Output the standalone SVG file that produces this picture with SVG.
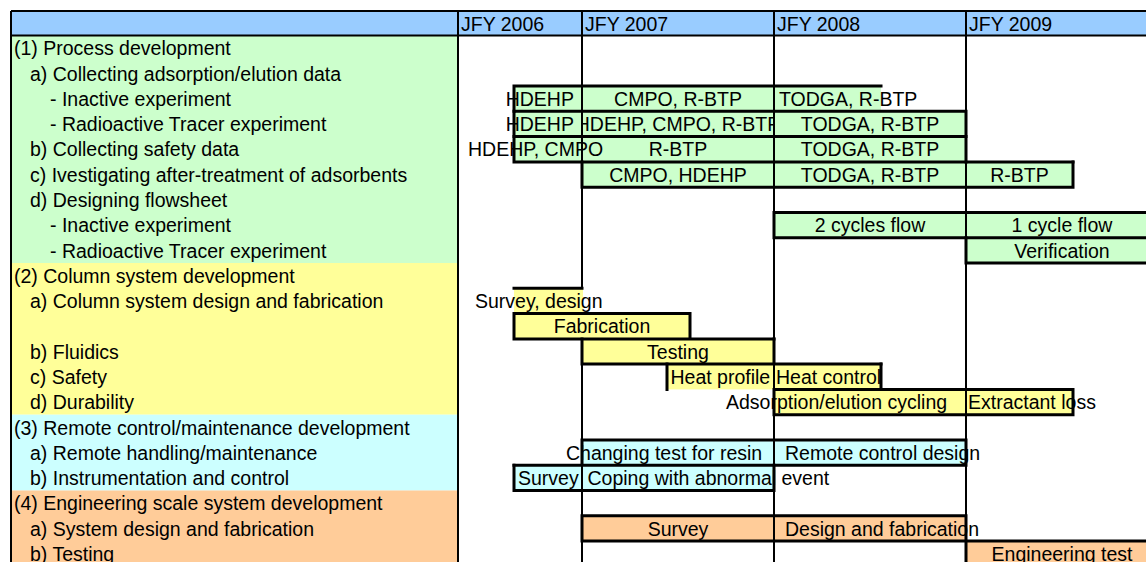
<svg xmlns="http://www.w3.org/2000/svg" width="1146" height="562" viewBox="0 0 1146 562">
<defs>
<style>
text{font-family:"Liberation Sans",Arial,sans-serif;font-size:19.5px;fill:#000}
.m{text-anchor:middle}
.g{fill:#CCFFCC}.y{fill:#FFFF99}.c{fill:#CCFFFF}.o{fill:#FFCC99}.b{fill:#99CCFF}
.grid{stroke:#000;stroke-width:2;fill:none}
.bd{stroke:#000;stroke-width:3;fill:none;stroke-linecap:square}
</style>
<clipPath id="clip3"><rect x="583" y="111" width="190" height="26"/></clipPath>
</defs>
<rect x="0" y="0" width="1146" height="562" fill="#fff"/>

<g id="header">
<rect class="b" x="11" y="11" width="1135" height="24.5"/>
<text x="461" y="30.5">JFY 2006</text>
<text x="585" y="30.5">JFY 2007</text>
<text x="777" y="30.5">JFY 2008</text>
<text x="969" y="30.5">JFY 2009</text>
</g>

<g id="task-labels">
<rect class="g" x="11" y="35.5" width="447" height="227.5"/>
<rect class="y" x="11" y="263" width="447" height="151.7"/>
<rect class="c" x="11" y="414.7" width="447" height="75.8"/>
<rect class="o" x="11" y="490.5" width="447" height="72"/>
<text x="14" y="55.3">(1) Process development</text>
<text x="30" y="80.6">a) Collecting adsorption/elution data</text>
<text x="50" y="105.9">- Inactive experiment</text>
<text x="50" y="131.1">- Radioactive Tracer experiment</text>
<text x="30" y="156.4">b) Collecting safety data</text>
<text x="30" y="181.7">c) Ivestigating after-treatment of adsorbents</text>
<text x="30" y="207">d) Designing flowsheet</text>
<text x="50" y="232.3">- Inactive experiment</text>
<text x="50" y="257.5">- Radioactive Tracer experiment</text>
<text x="14" y="282.8">(2) Column system development</text>
<text x="30" y="308.1">a) Column system design and fabrication</text>
<text x="30" y="358.7">b) Fluidics</text>
<text x="30" y="383.9">c) Safety</text>
<text x="30" y="409.2">d) Durability</text>
<text x="14" y="434.5">(3) Remote control/maintenance development</text>
<text x="30" y="459.8">a) Remote handling/maintenance</text>
<text x="30" y="485.1">b) Instrumentation and control</text>
<text x="14" y="510.3">(4) Engineering scale system development</text>
<text x="30" y="535.6">a) System design and fabrication</text>
<text x="30" y="560.9">b) Testing</text>
</g>

<g id="bar-fills">
<rect class="g" x="514" y="86" width="367" height="25.3"/>
<rect class="g" x="514" y="111.3" width="452" height="25.3"/>
<rect class="g" x="514" y="136.6" width="452" height="25.3"/>
<rect class="g" x="582" y="161.9" width="491" height="25.3"/>
<rect class="g" x="774" y="212.5" width="372" height="25.3"/>
<rect class="g" x="966" y="237.7" width="180" height="25.3"/>
<rect class="y" x="514" y="288.3" width="69" height="25.3"/>
<rect class="y" x="514" y="313.6" width="176" height="25.3"/>
<rect class="y" x="582" y="338.9" width="192" height="25.3"/>
<rect class="y" x="667" y="364.1" width="214" height="25.3"/>
<rect class="y" x="774" y="389.4" width="299" height="25.3"/>
<rect class="c" x="582" y="440" width="384" height="25.3"/>
<rect class="c" x="514" y="465.3" width="260" height="25.3"/>
<rect class="o" x="582" y="515.8" width="384" height="25.3"/>
<rect class="o" x="966" y="541.1" width="180" height="25.3"/>
</g>

<g id="bar-labels">
<text x="505.7" y="105.9">HDEHP</text>
<text class="m" x="678" y="105.9">CMPO, R-BTP</text>
<text x="779" y="105.9">TODGA, R-BTP</text>
<text x="505.7" y="131.1">HDEHP</text>
<text class="m" x="678" y="131.1" clip-path="url(#clip3)">HDEHP, CMPO, R-BTP</text>
<text class="m" x="870" y="131.1">TODGA, R-BTP</text>
<text x="468" y="156.4">HDEHP, CMPO</text>
<text class="m" x="678" y="156.4">R-BTP</text>
<text class="m" x="870" y="156.4">TODGA, R-BTP</text>
<text class="m" x="678" y="181.7">CMPO, HDEHP</text>
<text class="m" x="870" y="181.7">TODGA, R-BTP</text>
<text class="m" x="1019.5" y="181.7">R-BTP</text>
<text class="m" x="870" y="232.3">2 cycles flow</text>
<text class="m" x="1062" y="232.3">1 cycle flow</text>
<text class="m" x="1062" y="257.5">Verification</text>
<text x="475" y="308.1">Survey, design</text>
<text class="m" x="602" y="333.4">Fabrication</text>
<text class="m" x="678" y="358.7">Testing</text>
<text x="670.5" y="383.9">Heat profile</text>
<text x="776" y="383.9">Heat control</text>
<text x="726" y="409.2">Adsorption/elution cycling</text>
<text x="968" y="409.2">Extractant loss</text>
<text x="566" y="459.8">Changing test for resin</text>
<text x="785" y="459.8">Remote control design</text>
<text x="518" y="485.1">Survey</text>
<text x="587.5" y="485.1">Coping with abnormal event</text>
<text class="m" x="678" y="535.6">Survey</text>
<text x="785" y="535.6">Design and fabrication</text>
<text class="m" x="1062" y="560.9">Engineering test</text>
</g>

<g id="grid">
<path class="grid" d="M11,11H1146M11,35.5H1146M11,11V562M458,11V562M582,11V288.3M582,338.9V562M774,11V562M966,11V562"/>
</g>

<g id="bar-borders">
<path class="bd" d="M514,86H881M514,86V111.3"/>
<path class="bd" d="M514,111.3H966M514,111.3V136.6M966,111.3V161.9"/>
<path class="bd" d="M514,136.6H966M514,136.6V161.9M514,161.9H1073"/>
<path class="bd" d="M582,161.9V187.2M1073,161.9V187.2M582,187.2H1073"/>
<path class="bd" d="M774,212.5H1146M774,212.5V237.7M774,237.7H1146"/>
<path class="bd" d="M966,237.7V263M966,263H1146"/>
<path class="bd" d="M514,288.3H582"/>
<path class="bd" d="M514,313.6H690M514,313.6V338.9M690,313.6V338.9M514,338.9H774"/>
<path class="bd" d="M582,338.9V364.1M774,338.9V364.1M582,364.1H881"/>
<path class="bd" d="M667,364.1V389.4M881,364.1V389.4"/>
<path class="bd" d="M774,389.4H1073M774,389.4V414.7M1073,389.4V414.7M774,414.7H1073"/>
<path class="bd" d="M582,440H966M582,440V465.3M966,440V465.3M514,465.3H966"/>
<path class="bd" d="M514,465.3V490.5M774,465.3V490.5M514,490.5H774"/>
<path class="bd" d="M582,515.8H966M582,515.8V541.1M966,515.8V541.1M582,541.1H1146M966,541.1V562"/>
</g>
</svg>
